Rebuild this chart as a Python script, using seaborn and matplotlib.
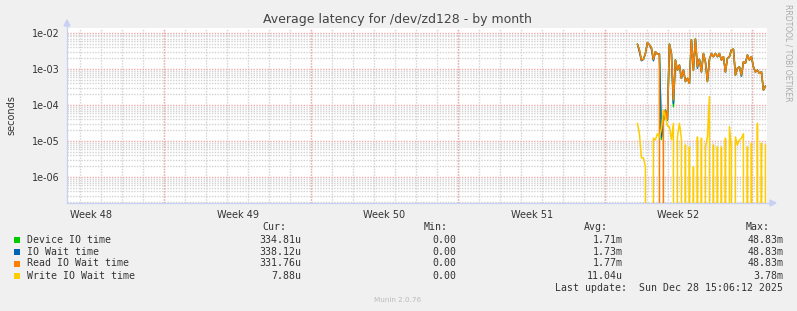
import numpy as np
import pandas as pd
import matplotlib
matplotlib.use("Agg")
import matplotlib.pyplot as plt
import seaborn as sns
from matplotlib.ticker import FixedLocator, NullFormatter, LogLocator
from matplotlib.patches import Rectangle, Polygon
from matplotlib.lines import Line2D

# ---------------- data (seconds) ----------------
series_names = ["Device IO time", "IO Wait time", "Read IO Wait time", "Write IO Wait time"]
series_colors = ["#00CC00", "#0066B3", "#FF8000", "#FFCC00"]

first_sample_day = 27.16      # days from left edge of graph
sample_step_day = 2 / 21      # ~2.3 h averaging step

device = [4.9e-3, 3.4e-3, 1.78e-3, 1.86e-3, 2.69e-3, 5.4e-3, 4.7e-3, 4.0e-3, 1.86e-3, 3.0e-3,
          2.6e-3, 2.6e-3, 1.1e-5, 3.8e-5, 7.2e-5, 3.8e-5, 4.9e-3, 2.7e-3, 9.0e-5, 1.78e-3,
          9.3e-4, 1.29e-3, 5.5e-4, 9.3e-4, 4.5e-4, 5.5e-4, 4.0e-4, 6.5e-3, 9.3e-4, 6.8e-3,
          1.15e-3, 1.86e-3, 8.3e-4, 2.7e-3, 1.58e-3, 4.5e-4, 1.86e-3, 2.7e-3, 2.2e-3, 2.7e-3,
          2.2e-3, 2.7e-3, 1.78e-3, 2.2e-3, 8.3e-4, 2.0e-3, 2.2e-3, 3.4e-3, 3.55e-3, 6.8e-4,
          1.05e-3, 1.15e-3, 6.8e-4, 1.58e-3, 1.45e-3, 2.45e-3, 1.78e-3, 2.2e-3, 1.15e-3, 8.3e-4,
          9.3e-4, 7.6e-4, 8.3e-4, 2.6e-4, 3.35e-4]
io_wait = [4.9e-3, 3.0e-3, 1.70e-3, 1.86e-3, 2.69e-3, 5.4e-3, 4.7e-3, 3.6e-3, 1.70e-3, 3.0e-3,
           2.6e-3, 2.6e-3, 1.3e-5, 3.9e-5, 7.2e-5, 3.9e-5, 4.9e-3, 2.7e-3, 1.1e-4, 1.78e-3,
           9.3e-4, 1.29e-3, 5.5e-4, 9.3e-4, 4.5e-4, 5.5e-4, 4.0e-4, 6.5e-3, 9.3e-4, 6.8e-3,
           1.05e-3, 1.86e-3, 8.3e-4, 2.7e-3, 1.58e-3, 4.5e-4, 1.86e-3, 2.7e-3, 2.2e-3, 2.7e-3,
           2.2e-3, 2.7e-3, 1.78e-3, 2.2e-3, 8.3e-4, 2.0e-3, 2.2e-3, 3.4e-3, 3.55e-3, 6.8e-4,
           1.05e-3, 1.15e-3, 6.3e-4, 1.58e-3, 1.45e-3, 2.45e-3, 1.78e-3, 2.2e-3, 1.15e-3, 8.3e-4,
           9.3e-4, 7.6e-4, 8.3e-4, 2.6e-4, 3.38e-4]
read_io = [4.9e-3, 3.4e-3, 1.78e-3, 1.86e-3, 2.69e-3, 5.4e-3, 4.7e-3, 4.0e-3, 1.86e-3, 3.0e-3,
           2.6e-3, 2.6e-3, 0.0, 3.5e-5, 7.0e-5, 4.0e-5, 4.9e-3, 2.7e-3, 1.4e-4, 1.78e-3,
           9.3e-4, 1.29e-3, 5.5e-4, 9.3e-4, 4.5e-4, 5.5e-4, 4.0e-4, 6.5e-3, 9.3e-4, 6.8e-3,
           1.15e-3, 1.86e-3, 8.3e-4, 2.7e-3, 1.58e-3, 4.5e-4, 1.86e-3, 2.7e-3, 2.2e-3, 2.7e-3,
           2.2e-3, 2.7e-3, 1.78e-3, 2.2e-3, 8.3e-4, 2.0e-3, 2.2e-3, 3.4e-3, 3.55e-3, 6.8e-4,
           1.05e-3, 1.15e-3, 6.8e-4, 1.58e-3, 1.45e-3, 2.45e-3, 1.78e-3, 2.2e-3, 1.15e-3, 8.3e-4,
           9.3e-4, 7.6e-4, 8.3e-4, 2.6e-4, 3.32e-4]
write_io = [3.1e-5, 1.6e-5, 3.4e-6, 3.4e-6, 1.95e-6, 0.0, 0.0, 0.0, 1.2e-5, 1.07e-5,
            1.6e-5, 1.3e-5, 2.2e-5, 7.2e-5, 4.8e-5, 2.6e-5, 2.5e-5, 1.1e-5, 3.1e-5, 0.0,
            1.3e-5, 3.1e-5, 1.2e-5, 0.0, 7.8e-6, 0.0, 6.9e-6, 0.0, 1.95e-6, 0.0,
            1.3e-5, 0.0, 1.2e-5, 0.0, 6.9e-6, 1.3e-5, 1.7e-4, 0.0, 7.8e-6, 0.0,
            6.9e-6, 0.0, 6.9e-6, 0.0, 1.2e-5, 0.0, 2.5e-5, 6.3e-6, 0.0, 1.3e-5,
            7.8e-6, 1.07e-5, 1.2e-5, 1.6e-5, 0.0, 6.9e-6, 0.0, 8.7e-6, 0.0, 0.0,
            3.1e-5, 0.0, 8.7e-6, 0.0, 7.9e-6]

week_labels = ["Week 48", "Week 49", "Week 50", "Week 51", "Week 52"]
ytick_labels = ["1e-06", "1e-05", "1e-04", "1e-03", "1e-02"]

cur_vals = ["334.81u", "338.12u", "331.76u", "7.88u"]
min_vals = ["0.00", "0.00", "0.00", "0.00"]
avg_vals = ["1.71m", "1.73m", "1.77m", "11.04u"]
max_vals = ["48.83m", "48.83m", "48.83m", "3.78m"]
last_update = "Last update:  Sun Dec 28 15:06:12 2025"

# ---------------- figure ----------------
W, H = 797, 311
sns.set_style("white")
plt.rcParams["font.family"] = ["DejaVu Sans"]
TXT = "#333333"
GRAY = "#D2D2D2"
RED = "#EDAAAA"

fig = plt.figure(figsize=(W / 100, H / 100), dpi=100, facecolor="#F0F0F0")
ax = fig.add_axes([67 / W, 1 - 203 / H, 700 / W, 175 / H])
ax.set_facecolor("white")

n = len(device)
days = first_sample_day + sample_step_day * np.arange(n)
frames = []
for name, vals in zip(series_names, [device, io_wait, read_io, write_io]):
    frames.append(pd.DataFrame({"day": days, "value": vals, "series": name}))
df = pd.concat(frames, ignore_index=True)

sns.lineplot(data=df, x="day", y="value", hue="series", hue_order=series_names,
             palette=series_colors, estimator=None, sort=False, legend=False,
             linewidth=1.1, ax=ax, zorder=3)

ax.set_yscale("log")
ax.set_ylim(10 ** -6.72, 10 ** -1.861)
ax.set_xlim(0, 33.33)

# y grid
ax.yaxis.set_major_locator(FixedLocator([1e-6, 1e-5, 1e-4, 1e-3, 1e-2]))
ax.set_yticklabels(ytick_labels)
ax.yaxis.set_minor_locator(LogLocator(base=10, subs=np.arange(2, 10)))
ax.yaxis.set_minor_formatter(NullFormatter())

dot = (0, (1.0, 1.0))
ax.grid(True, which="major", axis="y", color=RED, linestyle=dot, linewidth=1.0, zorder=1)
ax.grid(True, which="minor", axis="y", color=GRAY, linestyle=dot, linewidth=1.0, zorder=1)

# x grid: days (minor), weeks (red lines), labels mid-week
day_lines = 0.62 + np.arange(33)
week_lines = 4.62 + 7 * np.arange(5)
label_pos = 1.12 + 7 * np.arange(5)
ax.xaxis.set_minor_locator(FixedLocator(day_lines))
ax.xaxis.set_minor_formatter(NullFormatter())
ax.set_xticks(label_pos)
ax.set_xticklabels(week_labels)
ax.grid(True, which="minor", axis="x", color=GRAY, linestyle=dot, linewidth=1.0, zorder=1)
ax.grid(False, which="major", axis="x")
for w in week_lines:
    ax.axvline(w, color=RED, linestyle=dot, linewidth=1.0, zorder=1.5)

ax.tick_params(axis="x", which="major", length=0, pad=5, labelsize=7, labelcolor=TXT)
ax.tick_params(axis="x", which="minor", length=2, width=0.7, color=GRAY)
ax.tick_params(axis="y", which="major", length=2, width=0.7, color=GRAY,
               pad=3, labelsize=6.9, labelcolor=TXT)
ax.tick_params(axis="y", which="minor", length=0)
ax.set_xlabel("")
ax.set_ylabel("")

for s in ["top", "right"]:
    ax.spines[s].set_visible(False)
for s in ["left", "bottom"]:
    ax.spines[s].set_color("#C8D0F4")
    ax.spines[s].set_linewidth(0.9)

# axis arrows
axis_col = "#C8D0F4"
fig.add_artist(Line2D([67 / W, 67 / W], [1 - 28 / H, 1 - 23 / H], color=axis_col, lw=0.9))
fig.add_artist(Polygon([[64 / W, 1 - 26 / H], [70 / W, 1 - 26 / H], [67 / W, 1 - 20 / H]],
                       closed=True, color=axis_col, transform=fig.transFigure))
fig.add_artist(Line2D([767 / W, 772 / W], [1 - 203 / H, 1 - 203 / H], color=axis_col, lw=0.9))
fig.add_artist(Polygon([[770 / W, 1 - 200 / H], [770 / W, 1 - 206 / H], [776 / W, 1 - 203 / H]],
                       closed=True, color=axis_col, transform=fig.transFigure))

# texts
fig.text(397.5 / W, 1 - 19.3 / H, "Average latency for /dev/zd128 - by month",
         ha="center", va="center", fontsize=9, color="#444444")
fig.text(11 / W, 1 - 115.5 / H, "seconds", rotation=90, ha="center", va="center",
         fontsize=7, color=TXT)
fig.text(788 / W, 1 - 53 / H, "RRDTOOL / TOBI OETIKER", rotation=270, ha="center",
         va="center", fontsize=5.5, color="#AAAAAA")
fig.text(398 / W, 1 - 300 / H, "Munin 2.0.76", ha="center", va="center",
         fontsize=5.2, color="#BBBBBB")

mono = "DejaVu Sans Mono"
fs = 7.1
header_y = 227.5
row_y = [239.7, 251.7, 263.5, 275.7]
for xh, lab in zip([286.7, 447.7, 608.3, 769.3], ["Cur:", "Min:", "Avg:", "Max:"]):
    fig.text(xh / W, 1 - header_y / H, lab, ha="right", va="center",
             fontsize=fs, family=mono, color=TXT)
for i, (name, col) in enumerate(zip(series_names, series_colors)):
    y = row_y[i]
    fig.add_artist(Rectangle((14 / W, 1 - (y + 3) / H), 6 / W, 6 / H,
                             transform=fig.transFigure, facecolor=col, edgecolor="none"))
    fig.text(26.7 / W, 1 - y / H, name, ha="left", va="center", fontsize=fs,
             family=mono, color=TXT)
    for xv, vals in zip([301.7, 456.0, 622.7, 783.3], [cur_vals, min_vals, avg_vals, max_vals]):
        fig.text(xv / W, 1 - y / H, vals[i], ha="right", va="center", fontsize=fs,
                 family=mono, color=TXT)
fig.text(783.3 / W, 1 - 287.7 / H, last_update, ha="right", va="center",
         fontsize=fs, family=mono, color=TXT)

fig.savefig("out.png", dpi=100, facecolor=fig.get_facecolor())
